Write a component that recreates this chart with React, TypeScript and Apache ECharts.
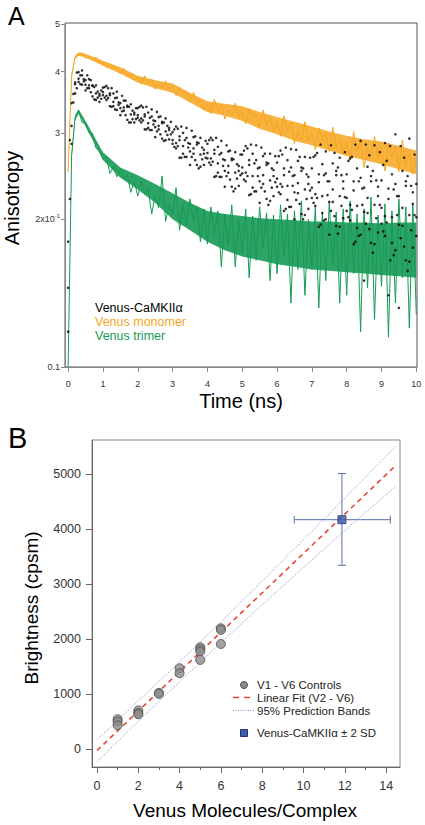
import React, { useEffect, useRef } from "react";
import * as echarts from "echarts";

const FONT = "'Liberation Sans', Arial, Helvetica, sans-serif";

// ---------- Panel A: anisotropy decays (sampled every 0.1 ns, 0..10 ns) ----------
const TIME_STEP_NS = 0.1;
const TIME_TICKS = [0, 1, 2, 3, 4, 5, 6, 7, 8, 9, 10];
const ANISO_TICKS = [0.1, 0.2, 0.3, 0.4, 0.5];
const ANISO_TICK_LABELS = ["0.1", "2x10{sup|-1}", "3", "4", "5"];

const VENUS_MONOMER = [
  0.250, 0.392, 0.428, 0.433, 0.437, 0.425, 0.430, 0.423, 0.428, 0.417,
  0.417, 0.407, 0.415, 0.406, 0.408, 0.396, 0.406, 0.393, 0.395, 0.384,
  0.389, 0.377, 0.392, 0.379, 0.386, 0.368, 0.377, 0.370, 0.383, 0.368,
  0.372, 0.357, 0.372, 0.360, 0.364, 0.347, 0.363, 0.344, 0.350, 0.334,
  0.343, 0.328, 0.351, 0.333, 0.343, 0.320, 0.334, 0.325, 0.345, 0.324,
  0.332, 0.313, 0.336, 0.321, 0.329, 0.307, 0.334, 0.310, 0.321, 0.302,
  0.315, 0.295, 0.325, 0.302, 0.315, 0.285, 0.304, 0.290, 0.316, 0.289,
  0.300, 0.277, 0.307, 0.290, 0.300, 0.275, 0.308, 0.280, 0.293, 0.271,
  0.288, 0.264, 0.302, 0.275, 0.291, 0.255, 0.279, 0.265, 0.295, 0.265,
  0.278, 0.251, 0.286, 0.267, 0.280, 0.250, 0.290, 0.257, 0.273, 0.247,
  0.268,
];

const VENUS_TRIMER = [
  0.100, 0.270, 0.322, 0.333, 0.315, 0.314, 0.300, 0.299, 0.279, 0.276,
  0.265, 0.268, 0.248, 0.256, 0.244, 0.253, 0.243, 0.246, 0.227, 0.239,
  0.223, 0.239, 0.225, 0.230, 0.205, 0.224, 0.211, 0.245, 0.198, 0.214,
  0.204, 0.232, 0.190, 0.214, 0.194, 0.220, 0.198, 0.212, 0.180, 0.210,
  0.178, 0.212, 0.186, 0.208, 0.160, 0.205, 0.176, 0.214, 0.160, 0.200,
  0.170, 0.210, 0.152, 0.203, 0.165, 0.212, 0.175, 0.206, 0.150, 0.204,
  0.155, 0.214, 0.168, 0.205, 0.135, 0.208, 0.158, 0.218, 0.140, 0.200,
  0.158, 0.212, 0.132, 0.206, 0.150, 0.216, 0.162, 0.207, 0.135, 0.210,
  0.140, 0.218, 0.155, 0.205, 0.118, 0.210, 0.145, 0.222, 0.125, 0.204,
  0.146, 0.215, 0.115, 0.208, 0.135, 0.220, 0.152, 0.212, 0.120, 0.214,
  0.128,
];

// dense-core envelopes of the two noisy traces
const ENV_T = [0, 0.1, 0.2, 0.3, 0.5, 1, 1.5, 2, 2.5, 3, 3.5, 4, 4.5, 5, 5.5, 6, 6.5, 7, 7.5, 8, 8.5, 9, 9.5, 10];
const MONOMER_LOW = [0.247, 0.388, 0.424, 0.431, 0.427, 0.411, 0.396, 0.380, 0.370, 0.362, 0.346, 0.331, 0.325, 0.317, 0.306, 0.298, 0.289, 0.283, 0.276, 0.269, 0.264, 0.259, 0.253, 0.247];
const MONOMER_HIGH = [0.253, 0.396, 0.431, 0.438, 0.435, 0.421, 0.408, 0.392, 0.384, 0.378, 0.362, 0.348, 0.344, 0.340, 0.331, 0.323, 0.316, 0.309, 0.302, 0.296, 0.291, 0.288, 0.282, 0.276];
const TRIMER_LOW = [0.100, 0.266, 0.318, 0.328, 0.309, 0.264, 0.243, 0.230, 0.216, 0.200, 0.190, 0.180, 0.173, 0.168, 0.165, 0.162, 0.160, 0.158, 0.157, 0.156, 0.155, 0.154, 0.153, 0.152];
const TRIMER_HIGH = [0.100, 0.274, 0.326, 0.335, 0.317, 0.274, 0.255, 0.246, 0.236, 0.226, 0.216, 0.208, 0.205, 0.203, 0.201, 0.200, 0.199, 0.198, 0.198, 0.197, 0.197, 0.196, 0.197, 0.197];

// Venus-CaMKIIα points: three readings at each 0.1 ns step...
const CAMKII_A = [
  0.118, 0.345, 0.380, 0.399, 0.402, 0.384, 0.386, 0.374, 0.375, 0.357,
  0.371, 0.374, 0.361, 0.361, 0.364, 0.345, 0.349, 0.339, 0.343, 0.327,
  0.337, 0.341, 0.327, 0.330, 0.335, 0.317, 0.323, 0.314, 0.321, 0.304,
  0.301, 0.309, 0.295, 0.300, 0.307, 0.285, 0.294, 0.284, 0.293, 0.272,
  0.285, 0.293, 0.277, 0.281, 0.289, 0.264, 0.275, 0.264, 0.274, 0.251,
  0.271, 0.282, 0.264, 0.272, 0.283, 0.255, 0.269, 0.258, 0.272, 0.245,
  0.261, 0.276, 0.254, 0.264, 0.278, 0.246, 0.263, 0.251, 0.268, 0.236,
  0.254, 0.270, 0.247, 0.259, 0.275, 0.239, 0.260, 0.246, 0.267, 0.231,
  0.247, 0.266, 0.239, 0.254, 0.289, 0.232, 0.256, 0.239, 0.283, 0.223,
  0.240, 0.286, 0.231, 0.247, 0.298, 0.223, 0.251, 0.234, 0.292, 0.215,
  0.236,
];
const CAMKII_B = [
  0.145, 0.285, 0.361, 0.387, 0.376, 0.366, 0.370, 0.356, 0.361, 0.347,
  0.358, 0.350, 0.340, 0.347, 0.334, 0.326, 0.333, 0.319, 0.327, 0.315,
  0.322, 0.315, 0.305, 0.314, 0.304, 0.294, 0.305, 0.292, 0.302, 0.291,
  0.285, 0.279, 0.267, 0.282, 0.268, 0.258, 0.272, 0.258, 0.271, 0.258,
  0.266, 0.258, 0.244, 0.260, 0.244, 0.233, 0.249, 0.233, 0.249, 0.234,
  0.248, 0.239, 0.224, 0.245, 0.228, 0.216, 0.236, 0.220, 0.240, 0.223,
  0.233, 0.225, 0.208, 0.234, 0.212, 0.200, 0.226, 0.205, 0.230, 0.210,
  0.221, 0.213, 0.193, 0.223, 0.200, 0.186, 0.217, 0.194, 0.223, 0.201,
  0.208, 0.199, 0.178, 0.213, 0.186, 0.150, 0.206, 0.179, 0.214, 0.188,
  0.196, 0.185, 0.140, 0.202, 0.173, 0.132, 0.194, 0.165, 0.204, 0.175,
  0.185,
];
const CAMKII_C = [
  0.180, 0.310, 0.377, 0.381, 0.393, 0.376, 0.375, 0.375, 0.350, 0.360,
  0.363, 0.357, 0.358, 0.340, 0.354, 0.337, 0.338, 0.341, 0.315, 0.330,
  0.326, 0.321, 0.324, 0.307, 0.324, 0.308, 0.310, 0.316, 0.290, 0.307,
  0.290, 0.286, 0.290, 0.272, 0.293, 0.275, 0.279, 0.287, 0.256, 0.277,
  0.273, 0.266, 0.272, 0.249, 0.273, 0.251, 0.257, 0.266, 0.231, 0.257,
  0.255, 0.249, 0.258, 0.232, 0.264, 0.239, 0.246, 0.261, 0.218, 0.252,
  0.242, 0.236, 0.246, 0.219, 0.255, 0.227, 0.237, 0.255, 0.204, 0.244,
  0.232, 0.225, 0.238, 0.206, 0.248, 0.217, 0.230, 0.251, 0.193, 0.239,
  0.221, 0.214, 0.229, 0.192, 0.243, 0.207, 0.221, 0.245, 0.178, 0.233,
  0.211, 0.203, 0.220, 0.179, 0.236, 0.195, 0.211, 0.239, 0.164, 0.227,
  0.202,
];
// ...and two more readings between the steps (t = 0.05, 0.15, ... 9.95 ns)
const CAMKII_D = [
  0.290, 0.346, 0.398, 0.377, 0.386, 0.370, 0.384, 0.351, 0.364, 0.352,
  0.372, 0.353, 0.370, 0.335, 0.346, 0.332, 0.349, 0.315, 0.333, 0.320,
  0.339, 0.318, 0.339, 0.304, 0.318, 0.302, 0.324, 0.289, 0.310, 0.298,
  0.305, 0.282, 0.309, 0.268, 0.286, 0.268, 0.295, 0.254, 0.280, 0.267,
  0.290, 0.262, 0.293, 0.244, 0.265, 0.245, 0.276, 0.228, 0.259, 0.246,
  0.276, 0.245, 0.284, 0.228, 0.254, 0.232, 0.272, 0.214, 0.254, 0.238,
  0.269, 0.233, 0.280, 0.212, 0.245, 0.219, 0.268, 0.200, 0.247, 0.229,
  0.268, 0.221, 0.284, 0.199, 0.239, 0.208, 0.273, 0.187, 0.246, 0.222,
  0.263, 0.209, 0.284, 0.185, 0.231, 0.196, 0.270, 0.171, 0.240, 0.214,
  0.258, 0.197, 0.282, 0.169, 0.223, 0.183, 0.267, 0.157, 0.234, 0.204,
];
const CAMKII_E = [
  0.220, 0.360, 0.370, 0.393, 0.382, 0.393, 0.363, 0.372, 0.354, 0.366,
  0.354, 0.370, 0.339, 0.353, 0.342, 0.357, 0.326, 0.339, 0.320, 0.337,
  0.318, 0.338, 0.305, 0.322, 0.312, 0.331, 0.298, 0.315, 0.297, 0.316,
  0.281, 0.306, 0.267, 0.290, 0.280, 0.303, 0.264, 0.286, 0.265, 0.289,
  0.261, 0.290, 0.245, 0.271, 0.257, 0.283, 0.241, 0.265, 0.242, 0.271,
  0.241, 0.279, 0.225, 0.260, 0.245, 0.280, 0.228, 0.260, 0.232, 0.269,
  0.227, 0.271, 0.210, 0.250, 0.234, 0.277, 0.215, 0.254, 0.220, 0.267,
  0.216, 0.273, 0.195, 0.246, 0.224, 0.283, 0.203, 0.255, 0.213, 0.274,
  0.202, 0.268, 0.180, 0.239, 0.214, 0.284, 0.191, 0.251, 0.201, 0.274,
  0.189, 0.263, 0.165, 0.230, 0.204, 0.282, 0.176, 0.245, 0.190, 0.271,
];

// ---------- Panel B: brightness vs. Venus molecules per complex ----------
const CONTROL_X = [1, 1, 1, 2, 2, 2, 3, 3, 4, 4, 5, 5, 5, 5, 6, 6, 6];
const CONTROL_Y = [540, 500, 430, 700, 650, 630, 1020, 1000, 1467, 1376, 1849, 1812, 1770, 1618, 2194, 2164, 1909];
const FIT_X = [0, 14.45];
const FIT_Y = [-30, 5152];
const BAND_X = [0, 2, 4, 6, 8, 10, 12, 14.45];
const BAND_UPPER = [170, 872, 1584, 2312, 3054, 3806, 4563, 5500];
const BAND_LOWER = [-235, 500, 1222, 1930, 2622, 3300, 3975, 4770];
const CAMKII_POINT = [11.86, 4170];
const CAMKII_X_RANGE = [9.55, 14.2];
const CAMKII_Y_RANGE = [3340, 5010];
const B_X_LABELS = [0, 2, 4, 6, 8, 10, 12, 14];
const B_X_MINOR = [1, 3, 5, 7, 9, 11, 13];
const B_Y_LABELS = [0, 1000, 2000, 3000, 4000, 5000];

const ORANGE = "#F7A51E";
const GREEN = "#169A55";
const RED = "#E8453C";
const BLUE_DOT = "#6F82C8";
const ERR_BLUE = "#5B6EA8";

const TIME_NS = VENUS_MONOMER.map((_, i) => Math.round(i * TIME_STEP_NS * 10) / 10);
const TIME_NS_MID = CAMKII_D.map((_, i) => Math.round((i * TIME_STEP_NS + 0.05) * 100) / 100);
const lg = (v: number) => Math.log10(v);

function bandSeries(low: number[], high: number[], color: string, opacity: number, z: number) {
  return {
    type: "custom", xAxisIndex: 0, yAxisIndex: 0, z, silent: true, clip: true,
    data: [[5, -0.6]],
    renderItem: (_p: any, api: any) => {
      const top = ENV_T.map((t, i) => api.coord([t, lg(high[i])]));
      const bot = ENV_T.map((t, i) => api.coord([t, lg(low[i])])).reverse();
      return { type: "polygon", shape: { points: top.concat(bot) }, style: { fill: color, opacity } };
    },
  };
}

export default function App() {
  const ref = useRef<HTMLDivElement>(null);
  useEffect(() => {
    const chart = echarts.init(ref.current!, null, { renderer: "svg" });
    const logTicks = ANISO_TICKS.map(lg);
    const blackData = [
      ...[CAMKII_A, CAMKII_B, CAMKII_C].flatMap((arr) => arr.map((v, i) => [TIME_NS[i], lg(v)])),
      ...[CAMKII_D, CAMKII_E].flatMap((arr) => arr.map((v, i) => [TIME_NS_MID[i], lg(v)])),
    ];
    const axisLineA = { show: true, onZero: false, lineStyle: { color: "#888", width: 1 } };
    const axisLineB = { show: true, onZero: false, lineStyle: { color: "#666", width: 1 } };
    const legendText = (text: string, x: number, y: number, fill: string, fontSize: number) => ({
      type: "text", x, y,
      style: { text, fontSize, lineHeight: fontSize - 1, fontFamily: FONT, fill, align: "left", verticalAlign: "middle" },
    });
    const option: any = {
      animation: false,
      backgroundColor: "#fff",
      textStyle: { fontFamily: FONT },
      grid: [
        { left: 65, top: 23, width: 352, height: 344, show: true, borderColor: "#555", borderWidth: 1 },
        { left: 92, top: 440, width: 308, height: 327, show: true, borderColor: "#888", borderWidth: 1 },
      ],
      xAxis: [
        {
          gridIndex: 0, type: "value", min: -0.09, max: 10.02, position: "bottom",
          axisLine: axisLineA,
          axisTick: { show: true, inside: false, length: 5, customValues: TIME_TICKS, lineStyle: { color: "#888" } },
          axisLabel: { customValues: TIME_TICKS, fontSize: 9, color: "#333", margin: 12, fontFamily: FONT },
          splitLine: { show: false },
        },
        {
          gridIndex: 1, type: "value", min: -0.24, max: 14.67, position: "bottom",
          axisLine: axisLineB,
          axisTick: { show: true, inside: false, length: 6, customValues: B_X_LABELS, lineStyle: { color: "#666" } },
          axisLabel: { customValues: B_X_LABELS, fontSize: 12.5, color: "#333", margin: 12, fontFamily: FONT },
          splitLine: { show: false },
        },
        {
          gridIndex: 1, type: "value", min: -0.24, max: 14.67, position: "bottom",
          axisLine: { show: false, onZero: false },
          axisTick: { show: true, inside: false, length: 3, customValues: B_X_MINOR, lineStyle: { color: "#666" } },
          axisLabel: { show: false },
          splitLine: { show: false },
        },
      ],
      yAxis: [
        {
          gridIndex: 0, type: "value", min: -1, max: lg(0.5) + 0.002, position: "left",
          axisLine: axisLineA,
          axisTick: { show: true, inside: false, length: 4, customValues: logTicks, lineStyle: { color: "#888" } },
          axisLabel: {
            customValues: logTicks, fontSize: 9, color: "#333", margin: 5, fontFamily: FONT,
            formatter: (v: number) => {
              const i = logTicks.findIndex((t) => Math.abs(t - v) < 1e-6);
              return i >= 0 ? ANISO_TICK_LABELS[i] : "";
            },
            rich: { sup: { fontSize: 6, color: "#333", verticalAlign: "bottom", padding: [0, 0, 6, 0], fontFamily: FONT } },
          },
          splitLine: { show: false },
        },
        {
          gridIndex: 1, type: "value", min: -330, max: 5620, position: "left",
          axisLine: axisLineB,
          axisTick: { show: true, inside: false, length: 6, customValues: B_Y_LABELS, lineStyle: { color: "#666" } },
          axisLabel: {
            customValues: B_Y_LABELS, fontSize: 12.5, color: "#333", margin: 11, fontFamily: FONT,
            formatter: (v: number) => String(v),
          },
          splitLine: { show: false },
        },
      ],
      series: [
        bandSeries(MONOMER_LOW, MONOMER_HIGH, ORANGE, 0.85, 1),
        {
          type: "line", xAxisIndex: 0, yAxisIndex: 0, symbol: "none", clip: true, z: 2,
          data: VENUS_MONOMER.map((v, i) => [TIME_NS[i], lg(v)]),
          lineStyle: { color: ORANGE, width: 1 },
        },
        bandSeries(TRIMER_LOW, TRIMER_HIGH, GREEN, 0.9, 2),
        {
          type: "line", xAxisIndex: 0, yAxisIndex: 0, symbol: "none", clip: true, z: 3,
          data: VENUS_TRIMER.map((v, i) => [TIME_NS[i], lg(v)]),
          lineStyle: { color: GREEN, width: 1 },
        },
        {
          type: "scatter", xAxisIndex: 0, yAxisIndex: 0, symbolSize: 2.6, z: 4,
          data: blackData, itemStyle: { color: "#000" },
        },
        {
          type: "line", xAxisIndex: 1, yAxisIndex: 1, symbol: "none", smooth: 0.3, z: 2,
          data: BAND_X.map((x, i) => [x, BAND_UPPER[i]]),
          lineStyle: { color: BLUE_DOT, width: 0.9, type: [1, 1.5] },
        },
        {
          type: "line", xAxisIndex: 1, yAxisIndex: 1, symbol: "none", smooth: 0.3, z: 2,
          data: BAND_X.map((x, i) => [x, BAND_LOWER[i]]),
          lineStyle: { color: BLUE_DOT, width: 0.9, type: [1, 1.5] },
        },
        {
          type: "line", xAxisIndex: 1, yAxisIndex: 1, symbol: "none", z: 3,
          data: FIT_X.map((x, i) => [x, FIT_Y[i]]),
          lineStyle: { color: RED, width: 1.6, type: [5, 4] },
        },
        {
          type: "scatter", xAxisIndex: 1, yAxisIndex: 1, symbolSize: 9, z: 4,
          data: CONTROL_X.map((x, i) => [x, CONTROL_Y[i]]),
          itemStyle: { color: "#8C8C8C", borderColor: "#4D4D4D", borderWidth: 1 },
        },
        {
          type: "custom", xAxisIndex: 1, yAxisIndex: 1, z: 5,
          data: [[CAMKII_POINT[0], CAMKII_POINT[1], CAMKII_X_RANGE[0], CAMKII_X_RANGE[1], CAMKII_Y_RANGE[0], CAMKII_Y_RANGE[1]]],
          renderItem: (_params: any, api: any) => {
            const x = api.value(0), y = api.value(1);
            const l = api.coord([api.value(2), y]);
            const r = api.coord([api.value(3), y]);
            const b = api.coord([x, api.value(4)]);
            const t = api.coord([x, api.value(5)]);
            const cap = 4;
            const st = { stroke: ERR_BLUE, lineWidth: 1 };
            return {
              type: "group",
              children: [
                { type: "line", shape: { x1: l[0], y1: l[1], x2: r[0], y2: r[1] }, style: st },
                { type: "line", shape: { x1: t[0], y1: t[1], x2: b[0], y2: b[1] }, style: st },
                { type: "line", shape: { x1: l[0], y1: l[1] - cap, x2: l[0], y2: l[1] + cap }, style: st },
                { type: "line", shape: { x1: r[0], y1: r[1] - cap, x2: r[0], y2: r[1] + cap }, style: st },
                { type: "line", shape: { x1: t[0] - cap, y1: t[1], x2: t[0] + cap, y2: t[1] }, style: st },
                { type: "line", shape: { x1: b[0] - cap, y1: b[1], x2: b[0] + cap, y2: b[1] }, style: st },
              ],
            };
          },
        },
        {
          type: "scatter", xAxisIndex: 1, yAxisIndex: 1, symbol: "rect", symbolSize: 8, z: 6,
          data: [CAMKII_POINT],
          itemStyle: { color: "#3E5BA9", borderColor: "#1F3470", borderWidth: 1 },
        },
      ],
      graphic: [
        { type: "text", x: 8, y: 16, style: { text: "A", fontSize: 25, fontFamily: FONT, fill: "#000", align: "left", verticalAlign: "middle" } },
        { type: "text", x: 8, y: 438, style: { text: "B", fontSize: 29, fontFamily: FONT, fill: "#000", align: "left", verticalAlign: "middle" } },
        { type: "text", x: 11.5, y: 198, rotation: Math.PI / 2, style: { text: "Anisotropy", fontSize: 20, fontFamily: FONT, fill: "#000", align: "center", verticalAlign: "middle" } },
        { type: "text", x: 241, y: 401, style: { text: "Time (ns)", fontSize: 20, fontFamily: FONT, fill: "#000", align: "center", verticalAlign: "middle" } },
        { type: "text", x: 31, y: 608, rotation: Math.PI / 2, style: { text: "Brightness (cpsm)", fontSize: 19, fontFamily: FONT, fill: "#000", align: "center", verticalAlign: "middle" } },
        { type: "text", x: 245, y: 810, style: { text: "Venus Molecules/Complex", fontSize: 19, fontFamily: FONT, fill: "#000", align: "center", verticalAlign: "middle" } },
        // Panel A legend
        legendText("Venus-CaMKIIα", 95, 308, "#000", 12.5),
        legendText("Venus monomer", 95, 322, ORANGE, 12.5),
        legendText("Venus trimer", 95, 336, GREEN, 12.5),
        // Panel B legend
        { type: "circle", shape: { cx: 244, cy: 685, r: 3.5 }, style: { fill: "#8C8C8C", stroke: "#4D4D4D", lineWidth: 1 } },
        { type: "line", shape: { x1: 233, y1: 697.5, x2: 239, y2: 697.5 }, style: { stroke: RED, lineWidth: 1.5 } },
        { type: "line", shape: { x1: 244, y1: 697.5, x2: 250, y2: 697.5 }, style: { stroke: RED, lineWidth: 1.5 } },
        { type: "line", shape: { x1: 233, y1: 710.5, x2: 255, y2: 710.5 }, style: { stroke: BLUE_DOT, lineWidth: 0.9, lineDash: [1, 1.5] } },
        { type: "rect", shape: { x: 240.5, y: 729.5, width: 7, height: 7 }, style: { fill: "#3E5BA9", stroke: "#1F3470", lineWidth: 1 } },
        legendText("V1 - V6 Controls", 257, 684.5, "#222", 11.5),
        legendText("Linear Fit (V2 - V6)", 257, 697.5, "#222", 11.5),
        legendText("95% Prediction Bands", 257, 710.5, "#222", 11.5),
        legendText("Venus-CaMKIIα ± 2 SD", 257, 733, "#222", 11.5),
      ],
    };
    chart.setOption(option);
    return () => chart.dispose();
  }, []);
  return (
    <div
      ref={ref}
      style={{ position: "absolute", left: 0, top: 0, width: 425, height: 825, background: "#fff" }}
    />
  );
}
